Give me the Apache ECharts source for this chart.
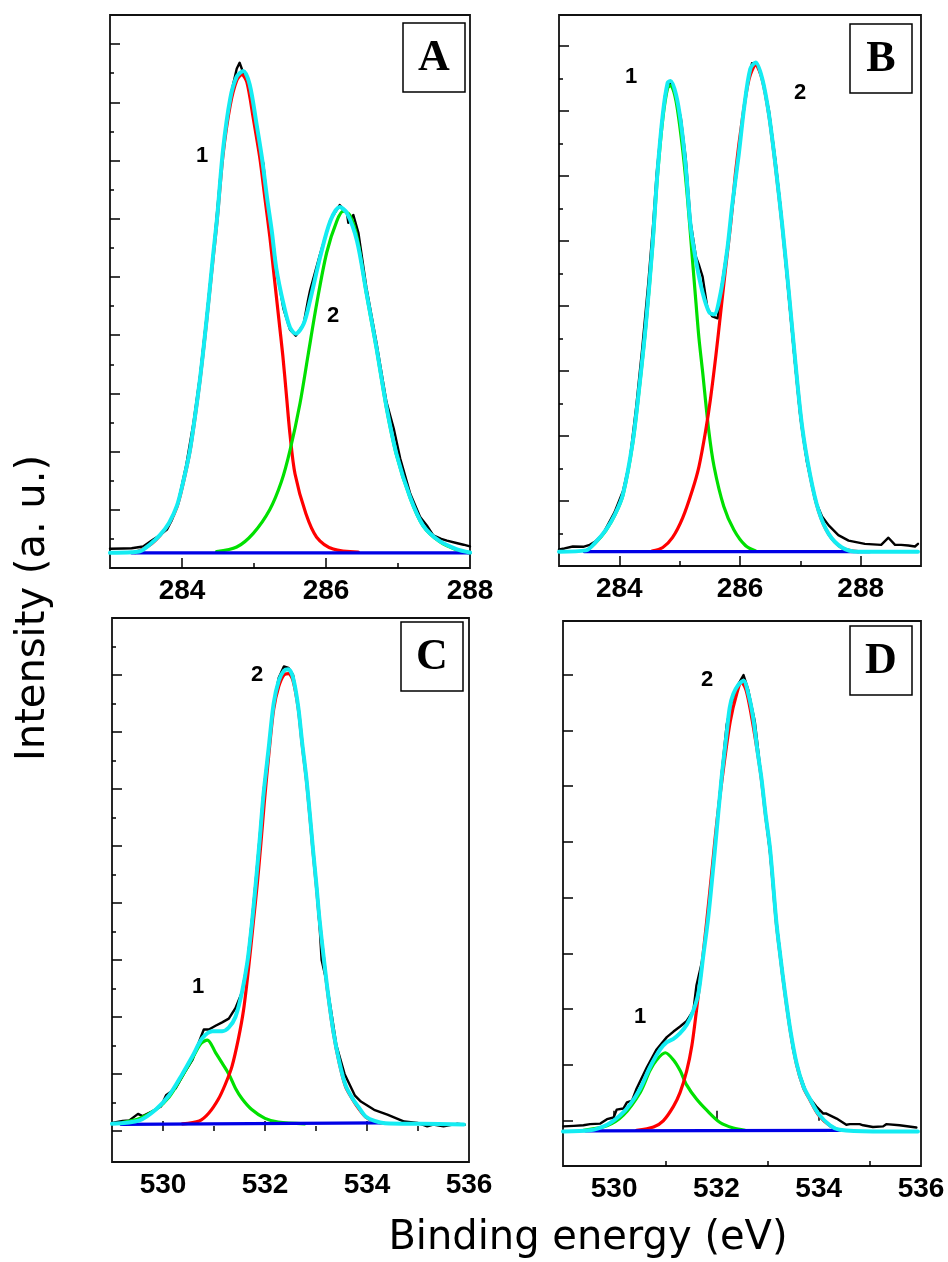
<!DOCTYPE html>
<html><head><meta charset="utf-8">
<script src="https://cdn.jsdelivr.net/npm/echarts@6/dist/echarts.min.js"></script>
<style>html,body{margin:0;padding:0;background:#fff}#c{width:948px;height:1262px}</style>
</head><body><div id="c"></div>
<script>
// ---------------- DATA (binding energy eV, intensity a.u.) ----------------
// Panel A (C 1s)
const A_xLabels = [284, 286, 288];
const A_xMajorTicks = [284, 286];
const A_xMinorTicks = [285, 287];
const A_yMajorTicks = [2, 4, 6, 8, 10, 12, 14, 16, 18];
const A_yMinorTicks = [1, 3, 5, 7, 9, 11, 13, 15, 17];
const A_measured = [[283.0,0.66],[283.19,0.67],[283.3,0.68],[283.46,0.74],[283.6,0.98],[283.69,1.12],[283.79,1.32],[283.86,1.65],[283.95,2.3],[284.06,3.55],[284.16,5.0],[284.25,6.6],[284.34,8.6],[284.44,10.95],[284.53,13.4],[284.62,15.35],[284.69,16.4],[284.76,17.15],[284.8,17.36],[284.85,17.02],[284.92,16.68],[284.99,15.59],[285.06,14.64],[285.13,13.89],[285.18,12.6],[285.25,11.52],[285.31,10.29],[285.41,8.9],[285.5,8.19],[285.58,7.98],[285.69,8.39],[285.75,9.2],[285.78,9.55],[285.92,10.8],[286.06,11.95],[286.19,12.47],[286.29,12.2],[286.31,11.86],[286.38,12.13],[286.45,11.52],[286.56,9.65],[286.7,7.75],[286.84,5.7],[286.94,4.8],[287.03,3.77],[287.17,2.55],[287.31,1.74],[287.4,1.46],[287.49,1.12],[287.6,1.0],[287.68,0.94],[287.81,0.86],[287.91,0.8],[288.0,0.74]];
const A_fit = [[283.0,0.52],[283.3,0.54],[283.42,0.58],[283.55,0.8],[283.69,1.12],[283.82,1.55],[283.93,2.14],[284.02,3.0],[284.11,4.04],[284.18,5.2],[284.25,6.49],[284.31,7.8],[284.37,9.21],[284.43,10.7],[284.49,12.1],[284.57,14.37],[284.67,16.13],[284.76,16.88],[284.85,17.08],[284.94,16.61],[285.04,15.18],[285.11,14.1],[285.18,12.74],[285.25,11.52],[285.31,10.29],[285.41,9.07],[285.5,8.26],[285.58,8.05],[285.69,8.39],[285.78,9.21],[285.92,10.7],[286.06,11.92],[286.19,12.4],[286.29,12.2],[286.43,11.24],[286.56,9.48],[286.7,7.58],[286.84,5.54],[286.98,3.91],[287.17,2.42],[287.35,1.46],[287.58,0.92],[287.81,0.65],[288.0,0.53]];
const A_peak1 = [[283.35,0.53],[283.55,0.78],[283.69,1.1],[283.82,1.52],[283.93,2.1],[284.02,2.95],[284.11,4.0],[284.18,5.15],[284.25,6.45],[284.31,7.75],[284.37,9.15],[284.43,10.6],[284.49,12.0],[284.57,14.2],[284.67,15.9],[284.76,16.75],[284.83,16.95],[284.9,16.7],[284.99,15.45],[285.08,14.1],[285.15,12.74],[285.22,11.38],[285.28,10.02],[285.34,8.66],[285.4,7.3],[285.45,5.95],[285.5,4.59],[285.57,3.23],[285.72,1.87],[285.87,1.06],[286.1,0.65],[286.45,0.55]];
const A_peak2 = [[284.48,0.56],[284.76,0.72],[284.99,1.19],[285.22,2.01],[285.38,2.96],[285.5,4.04],[285.64,5.67],[285.75,7.3],[285.87,9.07],[286.01,10.84],[286.15,11.92],[286.24,12.26],[286.33,12.13],[286.43,11.38],[286.56,9.45],[286.7,7.55],[286.84,5.5],[286.98,3.88],[287.17,2.4],[287.35,1.44],[287.58,0.9],[287.81,0.63],[288.0,0.52]];
const A_baseline = [[283.3,0.52],[288.0,0.52]];

// Panel B (C 1s)
const B_xLabels = [284, 286, 288];
const B_xMajorTicks = [284, 286, 288];
const B_xMinorTicks = [285, 287];
const B_yMajorTicks = [2, 4, 6, 8, 10, 12, 14, 16];
const B_yMinorTicks = [1, 3, 5, 7, 9, 11, 13, 15];
const B_measured = [[283.0,0.51],[283.09,0.54],[283.23,0.6],[283.4,0.59],[283.51,0.65],[283.6,0.75],[283.73,0.99],[283.92,1.65],[284.06,2.3],[284.17,3.2],[284.28,4.9],[284.38,6.7],[284.48,8.7],[284.56,10.5],[284.62,12.1],[284.7,13.6],[284.76,14.5],[284.8,14.8],[284.85,14.86],[284.94,14.43],[285.02,13.77],[285.1,12.55],[285.18,10.6],[285.27,9.51],[285.32,9.26],[285.38,8.9],[285.46,7.93],[285.54,7.68],[285.63,7.62],[285.68,8.4],[285.79,9.8],[285.9,11.4],[286.0,13.0],[286.1,14.6],[286.2,15.47],[286.29,15.41],[286.37,14.98],[286.48,14.01],[286.59,12.45],[286.68,10.9],[286.79,8.66],[286.9,6.47],[287.0,4.6],[287.11,3.2],[287.25,2.0],[287.36,1.52],[287.47,1.25],[287.63,0.95],[287.8,0.78],[288.07,0.68],[288.34,0.65],[288.46,0.87],[288.57,0.65],[288.67,0.65],[288.79,0.63],[288.9,0.6],[288.95,0.68]];
const B_fit = [[283.0,0.44],[283.45,0.48],[283.6,0.72],[283.78,1.12],[283.93,1.6],[284.06,2.21],[284.22,3.79],[284.33,5.49],[284.44,7.44],[284.55,9.87],[284.63,12.06],[284.72,13.89],[284.8,14.86],[284.85,14.92],[284.94,14.5],[285.02,13.64],[285.1,12.3],[285.18,10.48],[285.27,9.39],[285.38,8.41],[285.49,7.8],[285.57,7.74],[285.68,8.41],[285.79,9.75],[285.87,11.09],[285.98,12.67],[286.07,14.13],[286.17,15.29],[286.26,15.49],[286.37,14.98],[286.48,13.89],[286.59,12.3],[286.7,10.48],[286.81,8.41],[286.92,6.22],[287.03,4.28],[287.16,2.82],[287.3,1.72],[287.47,0.99],[287.69,0.57],[287.96,0.44],[288.95,0.44]];
const B_peak1 = [[283.45,0.46],[283.6,0.7],[283.78,1.1],[283.93,1.58],[284.06,2.18],[284.22,3.75],[284.33,5.45],[284.44,7.4],[284.55,9.8],[284.63,11.95],[284.72,13.75],[284.8,14.7],[284.85,14.78],[284.94,14.3],[285.05,12.8],[285.13,11.3],[285.2,9.7],[285.27,8.1],[285.32,7.0],[285.38,5.98],[285.48,4.2],[285.57,3.06],[285.73,1.84],[285.9,1.11],[286.09,0.63],[286.26,0.46]];
const B_peak2 = [[284.54,0.46],[284.72,0.57],[284.88,0.87],[285.05,1.48],[285.21,2.33],[285.32,3.06],[285.43,4.15],[285.51,5.13],[285.6,6.47],[285.68,7.8],[285.76,9.14],[285.85,10.6],[285.93,12.18],[286.04,13.77],[286.15,14.98],[286.26,15.41],[286.37,14.95],[286.48,13.85],[286.59,12.25],[286.7,10.45],[286.81,8.38],[286.92,6.2],[287.03,4.25],[287.16,2.8],[287.3,1.7],[287.47,0.98],[287.69,0.56],[287.96,0.44]];
const B_baseline = [[283.42,0.44],[288.15,0.44]];

// Panel C (O 1s)
const C_xLabels = [530, 532, 534, 536];
const C_xMajorTicks = [530, 532, 534];
const C_xMinorTicks = [531, 533, 535];
const C_yMajorTicks = [0, 2, 4, 6, 8, 10, 12, 14, 16];
const C_yMinorTicks = [1, 3, 5, 7, 9, 11, 13, 15, 17];
const C_measured = [[529.0,0.28],[529.21,0.35],[529.34,0.37],[529.51,0.6],[529.6,0.52],[529.8,0.7],[529.96,0.86],[530.06,1.25],[530.25,1.5],[530.45,2.13],[530.58,2.5],[530.7,3.1],[530.8,3.56],[530.9,3.56],[531.03,3.69],[531.16,3.81],[531.29,3.94],[531.42,4.31],[531.55,4.88],[531.66,6.0],[531.75,7.5],[531.83,9.0],[531.9,10.4],[531.97,11.9],[532.07,13.4],[532.17,15.0],[532.27,15.9],[532.37,16.3],[532.46,16.25],[532.55,16.0],[532.6,15.5],[532.65,14.9],[532.73,13.6],[532.81,12.4],[532.88,11.1],[532.94,9.9],[533.01,8.6],[533.07,7.2],[533.11,6.0],[533.2,5.3],[533.28,4.4],[533.4,3.0],[533.56,2.0],[533.76,1.25],[533.88,1.03],[534.14,0.74],[534.4,0.57],[534.73,0.33],[534.99,0.28],[535.18,0.16],[535.3,0.22],[535.5,0.16],[535.76,0.25],[535.92,0.22]];
const C_fit = [[529.0,0.25],[529.54,0.37],[529.86,0.75],[530.12,1.25],[530.38,2.0],[530.58,2.63],[530.77,3.25],[530.97,3.5],[531.16,3.5],[531.29,3.63],[531.42,4.0],[531.55,4.88],[531.66,6.0],[531.75,7.4],[531.83,8.9],[531.9,10.3],[531.97,11.8],[532.07,13.4],[532.17,15.0],[532.27,15.8],[532.37,16.15],[532.46,16.2],[532.55,15.9],[532.65,14.9],[532.73,13.6],[532.81,12.4],[532.88,11.1],[532.94,9.9],[533.01,8.6],[533.07,7.4],[533.15,6.1],[533.23,4.9],[533.34,3.5],[533.46,2.4],[533.58,1.6],[533.72,1.13],[533.85,0.8],[533.98,0.5],[534.15,0.35],[534.35,0.27],[535.05,0.25],[535.9,0.23]];
const C_peak1 = [[529.22,0.3],[529.54,0.44],[529.86,0.75],[530.12,1.19],[530.38,1.94],[530.58,2.56],[530.74,3.06],[530.87,3.19],[531.03,2.75],[531.16,2.38],[531.29,2.0],[531.42,1.5],[531.55,1.13],[531.74,0.75],[532.0,0.44],[532.26,0.31],[532.78,0.25]];
const C_peak2 = [[530.38,0.25],[530.71,0.35],[530.9,0.63],[531.09,1.13],[531.22,1.63],[531.35,2.25],[531.48,3.25],[531.58,4.25],[531.68,5.75],[531.77,7.3],[531.85,8.7],[531.92,10.1],[531.99,11.6],[532.08,13.3],[532.17,14.8],[532.27,15.6],[532.37,16.0],[532.46,16.05],[532.55,15.8],[532.65,14.85],[532.73,13.55],[532.81,12.35],[532.88,11.05],[532.94,9.85],[533.01,8.55],[533.07,7.35],[533.15,6.05],[533.23,4.85],[533.34,3.45],[533.46,2.35],[533.58,1.55],[533.72,1.1],[533.85,0.75],[533.98,0.48],[534.15,0.32],[534.35,0.27]];
const C_baseline = [[529.18,0.23],[534.27,0.28]];

// Panel D (O 1s)
const D_xLabels = [530, 532, 534, 536];
const D_xMajorTicks = [530, 532, 534];
const D_xMinorTicks = [531, 533, 535];
const D_yMajorTicks = [0, 1, 2, 3, 4, 5, 6, 7, 8];
const D_yMinorTicks = [];
const D_measured = [[529.01,-0.1],[529.21,-0.09],[529.4,-0.08],[529.53,-0.06],[529.73,-0.05],[529.86,0.03],[529.99,0.06],[530.05,0.2],[530.18,0.22],[530.25,0.33],[530.35,0.36],[530.44,0.58],[530.64,0.96],[530.83,1.28],[531.03,1.5],[531.16,1.6],[531.29,1.69],[531.42,1.79],[531.55,1.98],[531.61,2.43],[531.74,2.94],[531.84,3.71],[531.97,4.92],[532.1,6.2],[532.2,7.1],[532.29,7.48],[532.43,7.83],[532.53,7.99],[532.62,7.73],[532.75,7.16],[532.88,6.14],[533.05,4.8],[533.17,3.58],[533.34,2.3],[533.5,1.28],[533.63,0.83],[533.76,0.5],[533.83,0.4],[533.95,0.26],[534.09,0.13],[534.15,0.13],[534.35,0.04],[534.54,-0.07],[534.61,-0.06],[534.8,-0.06],[534.87,-0.08],[535.06,-0.11],[535.26,-0.1],[535.32,-0.06],[535.58,-0.08],[535.91,-0.12]];
const D_fit = [[529.0,-0.19],[529.53,-0.17],[529.86,-0.07],[530.12,0.1],[530.31,0.29],[530.51,0.58],[530.7,0.96],[530.9,1.28],[531.03,1.41],[531.16,1.47],[531.29,1.57],[531.42,1.72],[531.55,1.98],[531.65,2.3],[531.74,2.94],[531.84,3.65],[531.97,4.86],[532.1,6.14],[532.2,6.95],[532.26,7.41],[532.33,7.65],[532.43,7.82],[532.53,7.89],[532.62,7.67],[532.72,7.22],[532.8,6.65],[532.88,6.14],[532.96,5.5],[533.05,4.86],[533.17,3.58],[533.25,2.95],[533.34,2.3],[533.45,1.6],[533.57,1.02],[533.7,0.62],[533.83,0.39],[534.0,0.12],[534.22,-0.08],[534.41,-0.16],[535.06,-0.19],[535.94,-0.19]];
const D_peak1 = [[529.4,-0.17],[529.86,-0.09],[530.18,0.1],[530.51,0.51],[530.7,0.9],[530.83,1.09],[531.0,1.22],[531.16,1.09],[531.29,0.9],[531.42,0.64],[531.61,0.39],[531.81,0.19],[532.07,-0.03],[532.33,-0.13],[532.56,-0.17]];
const D_peak2 = [[530.44,-0.17],[530.77,-0.11],[530.96,0.0],[531.16,0.26],[531.29,0.51],[531.42,0.9],[531.52,1.35],[531.61,1.98],[531.71,2.75],[531.81,3.58],[531.91,4.47],[532.01,5.37],[532.14,6.33],[532.27,7.16],[532.4,7.67],[532.49,7.86],[532.58,7.72],[532.68,7.28],[532.8,6.62],[532.88,6.12],[532.96,5.48],[533.05,4.84],[533.17,3.56],[533.25,2.93],[533.34,2.28],[533.45,1.58],[533.57,1.0],[533.7,0.6],[533.83,0.37],[534.0,0.1],[534.22,-0.09],[534.4,-0.17]];
const D_baseline = [[529.44,-0.18],[534.44,-0.17]];

const panelLetters = ['A', 'B', 'C', 'D'];
const xTitle = 'Binding energy (eV)';
const yTitle = 'Intensity (a. u.)';

// ---------------- LAYOUT / STYLE ----------------
const COL = { meas: '#000000', fit: '#14ecf2', red: '#ff0000', green: '#00e000', blue: '#0000e6' };
const panels = [
  { grid: {left:110, top:15, width:360, height:553}, x:[283,288], y:[0,19.0],
    xLabels:A_xLabels, xMaj:A_xMajorTicks, xMin:A_xMinorTicks, yMaj:A_yMajorTicks, yMin:A_yMinorTicks,
    meas:A_measured, fit:A_fit, p1:A_peak1, p2:A_peak2, base:A_baseline, p1Col:COL.red, p2Col:COL.green,
    box:[403,23], n1:[202,156], n2:[333,316] },
  { grid: {left:559, top:15, width:362, height:551}, x:[283,289], y:[0,16.95],
    xLabels:B_xLabels, xMaj:B_xMajorTicks, xMin:B_xMinorTicks, yMaj:B_yMajorTicks, yMin:B_yMinorTicks,
    meas:B_measured, fit:B_fit, p1:B_peak1, p2:B_peak2, base:B_baseline, p1Col:COL.green, p2Col:COL.red,
    box:[850,24], n1:[631,77], n2:[800,93] },
  { grid: {left:112, top:618, width:357, height:544}, x:[529,536], y:[-1.09,18.0],
    xLabels:C_xLabels, xMaj:C_xMajorTicks, xMin:C_xMinorTicks, yMaj:C_yMajorTicks, yMin:C_yMinorTicks,
    meas:C_measured, fit:C_fit, p1:C_peak1, p2:C_peak2, base:C_baseline, p1Col:COL.green, p2Col:COL.red,
    box:[401,622], n1:[198,987], n2:[257,675] },
  { grid: {left:563, top:621, width:358, height:545}, x:[529,536], y:[-0.81,8.96],
    xLabels:D_xLabels, xMaj:D_xMajorTicks, xMin:D_xMinorTicks, yMaj:D_yMajorTicks, yMin:D_yMinorTicks,
    meas:D_measured, fit:D_fit, p1:D_peak1, p2:D_peak2, base:D_baseline, p1Col:COL.green, p2Col:COL.red,
    box:[850,626], n1:[640,1017], n2:[707,680] }
];

const grids = [], xAxes = [], yAxes = [], series = [], graphics = [];
const tickStyle = { color: '#000', width: 1.5 };
panels.forEach((p, i) => {
  grids.push(Object.assign({ show: true, borderColor: '#111', borderWidth: 1.8, backgroundColor: 'transparent', containLabel: false }, p.grid));
  const xi = xAxes.length;
  xAxes.push({ gridIndex: i, type: 'value', min: p.x[0], max: p.x[1], position: 'bottom',
    axisLine: { show: false }, splitLine: { show: false },
    axisTick: { show: true, inside: true, length: 10, customValues: p.xMaj, lineStyle: tickStyle },
    axisLabel: { show: true, customValues: p.xLabels, margin: 9, fontSize: 28, fontWeight: 'bold',
      fontFamily: 'Liberation Sans, Arial, sans-serif', color: '#000' } });
  xAxes.push({ gridIndex: i, type: 'value', min: p.x[0], max: p.x[1], position: 'bottom',
    axisLine: { show: false }, splitLine: { show: false },
    axisTick: { show: true, inside: true, length: 5, customValues: p.xMin, lineStyle: tickStyle },
    axisLabel: { show: false } });
  const yi = yAxes.length;
  yAxes.push({ gridIndex: i, type: 'value', min: p.y[0], max: p.y[1], position: 'left',
    axisLine: { show: false }, splitLine: { show: false },
    axisTick: { show: true, inside: true, length: 10, customValues: p.yMaj, lineStyle: tickStyle },
    axisLabel: { show: false } });
  if (p.yMin.length) {
    yAxes.push({ gridIndex: i, type: 'value', min: p.y[0], max: p.y[1], position: 'left',
      axisLine: { show: false }, splitLine: { show: false },
      axisTick: { show: true, inside: true, length: 4, customValues: p.yMin, lineStyle: tickStyle },
      axisLabel: { show: false } });
  }
  const mk = (data, color, width, smooth, z) => ({
    type: 'line', xAxisIndex: xi, yAxisIndex: yi, data: data, showSymbol: false, symbol: 'none',
    smooth: smooth, clip: true, silent: true, animation: false, z: z,
    lineStyle: { color: color, width: width, join: 'round', cap: 'round' } });
  series.push(mk(p.meas, COL.meas, 2.4, false, 2));
  series.push(mk(p.p1, p.p1Col, 3.2, 0.3, 3));
  series.push(mk(p.p2, p.p2Col, 3.2, 0.3, 3));
  series.push(mk(p.base, COL.blue, 3.2, false, 4));
  series.push(mk(p.fit, COL.fit, 4, 0.3, 5));

  // panel letter box
  graphics.push({ type: 'rect', shape: { x: p.box[0], y: p.box[1], width: 62, height: 69 },
    style: { fill: '#fff', stroke: '#000', lineWidth: 1.5 }, z: 10 });
  graphics.push({ type: 'text', x: p.box[0] + 31, y: p.box[1] + 36, z: 11,
    style: { text: panelLetters[i], font: 'bold 44px "Liberation Serif", "Times New Roman", serif',
      fill: '#000', textAlign: 'center', textVerticalAlign: 'middle' } });
  // peak numbers
  graphics.push({ type: 'text', x: p.n1[0], y: p.n1[1], z: 11,
    style: { text: '1', font: 'bold 22px "Liberation Sans", Arial, sans-serif', fill: '#000', textAlign: 'center', textVerticalAlign: 'middle' } });
  graphics.push({ type: 'text', x: p.n2[0], y: p.n2[1], z: 11,
    style: { text: '2', font: 'bold 22px "Liberation Sans", Arial, sans-serif', fill: '#000', textAlign: 'center', textVerticalAlign: 'middle' } });
});

graphics.push({ type: 'text', x: 588, y: 1239, z: 11,
  style: { text: xTitle, font: '40px "DejaVu Sans", sans-serif', fill: '#000', textAlign: 'center', textVerticalAlign: 'middle' } });
graphics.push({ type: 'text', x: 34, y: 608, rotation: Math.PI / 2, z: 11,
  style: { text: yTitle, font: '40px "DejaVu Sans", sans-serif', fill: '#000', textAlign: 'center', textVerticalAlign: 'middle' } });

const chart = echarts.init(document.getElementById('c'), null, { renderer: 'canvas', width: 948, height: 1262 });
chart.setOption({
  animation: false,
  backgroundColor: '#ffffff',
  grid: grids, xAxis: xAxes, yAxis: yAxes, series: series,
  graphic: { elements: graphics }
});
</script></body></html>
